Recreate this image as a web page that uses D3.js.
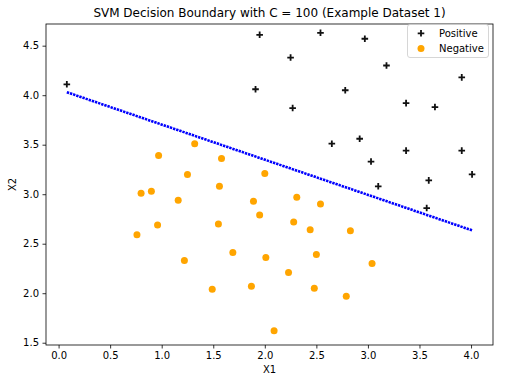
<!DOCTYPE html>
<html><head><meta charset="utf-8">
<script src="https://cdn.jsdelivr.net/npm/d3@7"></script>
<style>body{margin:0;background:#fff}svg{display:block}text{font-family:"DejaVu Sans",sans-serif}</style>
</head><body><svg id="c" width="509" height="378"></svg>
<script>
const posX = [0.08,1.95,1.91,2.54,2.97,2.25,3.18,3.91,2.78,3.37,3.65,2.27,2.65,2.92,3.37,3.91,3.03,4.01,3.59,3.10,3.57];
const posY = [4.11,4.61,4.06,4.63,4.57,4.38,4.30,4.18,4.05,3.92,3.88,3.87,3.51,3.56,3.44,3.44,3.33,3.20,3.14,3.08,2.86];
const negX = [0.97,1.32,1.58,1.25,2.00,0.80,0.90,1.56,1.16,1.89,1.95,0.96,1.55,0.76,1.69,2.01,1.22,1.87,1.49,2.31,2.54,2.28,2.44,2.83,2.50,2.23,3.04,2.48,2.79,2.09];
const negY = [3.39,3.51,3.36,3.20,3.21,3.01,3.03,3.08,2.94,2.93,2.79,2.69,2.70,2.59,2.41,2.36,2.33,2.07,2.04,2.97,2.90,2.72,2.64,2.63,2.39,2.21,2.30,2.05,1.97,1.62];
const boundaryX = [0.08,4.01];
const boundaryY = [4.03,2.635];
const xTicks = [0,0.5,1,1.5,2,2.5,3,3.5,4];
const yTicks = [1.5,2,2.5,3,3.5,4,4.5];
const title = "SVM Decision Boundary with C = 100 (Example Dataset 1)";

const svg = d3.select("#c");
const L=46,R=493,T=24,B=345;
const x = d3.scaleLinear().domain([-0.122,4.213]).range([L,R]);
const y = d3.scaleLinear().domain([1.477,4.719]).range([B,T]);

// boundary as dotted line
svg.append("path")
  .attr("d", d3.line().x(d=>x(d[0])).y(d=>y(d[1]))(boundaryX.map((v,i)=>[v,boundaryY[i]])))
  .attr("stroke","#0000ff").attr("stroke-width",2.6).attr("fill","none")
  .attr("stroke-dasharray","2.4,0.9");

// positives
const pos = posX.map((v,i)=>[v,posY[i]]);
const plus = d3.symbol().type(d3.symbolCross);
svg.append("g").selectAll("path").data(pos).join("path")
  .attr("d", d=>`M${x(d[0])-3.3},${y(d[1])}h6.6M${x(d[0])},${y(d[1])-3.3}v6.6`)
  .attr("stroke","#111").attr("stroke-width",1.8).attr("fill","none");

// negatives
const neg = negX.map((v,i)=>[v,negY[i]]);
svg.append("g").selectAll("circle").data(neg).join("circle")
  .attr("cx",d=>x(d[0])).attr("cy",d=>y(d[1])).attr("r",3.5).attr("fill","#ffa500");

// axes
const xa = svg.append("g").attr("transform",`translate(0,${B})`)
  .call(d3.axisBottom(x).tickValues(xTicks).tickFormat(d3.format(".1f")).tickSizeOuter(0).tickSize(3.5).tickPadding(3.5));
const ya = svg.append("g").attr("transform",`translate(${L},0)`)
  .call(d3.axisLeft(y).tickValues(yTicks).tickFormat(d3.format(".1f")).tickSizeOuter(0).tickSize(3.5).tickPadding(3.5));
[xa,ya].forEach(a=>{a.select(".domain").remove();a.selectAll("line").attr("stroke","#000").attr("stroke-width",0.8);
  a.selectAll("text").attr("font-size",10).attr("fill","#000").style("font-family","DejaVu Sans");});

// frame
svg.append("rect").attr("x",L).attr("y",T).attr("width",R-L).attr("height",B-T)
  .attr("fill","none").attr("stroke","#000").attr("stroke-width",0.8);

// labels
svg.append("text").attr("x",(L+R)/2).attr("y",373).attr("text-anchor","middle").attr("font-size",10).text("X1");
svg.append("text").attr("transform",`translate(16,${(T+B)/2}) rotate(-90)`).attr("text-anchor","middle").attr("font-size",10).text("X2");
svg.append("text").attr("x",(L+R)/2).attr("y",17).attr("text-anchor","middle").attr("font-size",12).text(title);

// legend
const lg = svg.append("g");
lg.append("rect").attr("x",407.5).attr("y",24.5).attr("width",81).attr("height",33).attr("rx",2.5)
  .attr("fill","#fff").attr("fill-opacity",0.8).attr("stroke","#ccc").attr("stroke-width",0.8);
lg.append("path").attr("d","M417.7,33.3h6.6M421,30v6.6").attr("stroke","#111").attr("stroke-width",1.8);
lg.append("circle").attr("cx",421).attr("cy",48.5).attr("r",3.5).attr("fill","#ffa500");
lg.append("text").attr("x",439).attr("y",37).attr("font-size",10).text("Positive");
lg.append("text").attr("x",439).attr("y",52).attr("font-size",10).text("Negative");
</script></body></html>
